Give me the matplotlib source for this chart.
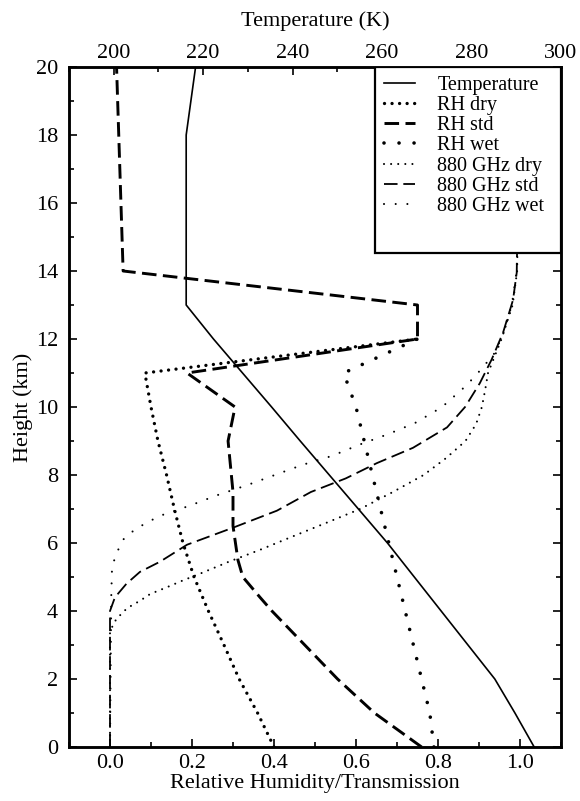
import matplotlib
matplotlib.use("Agg")
import matplotlib.pyplot as plt
from matplotlib.patches import Rectangle
from matplotlib.ticker import MultipleLocator

plt.rcParams['font.family'] = ['Liberation Serif', 'DejaVu Serif']
plt.rcParams['mathtext.fontset'] = 'stix'

# ---------------- data ----------------
# Temperature profile (K) vs height (km)
temp_h = [0, 1, 2, 3, 4, 5, 6, 7, 8, 9, 10, 11, 12, 13, 18, 20]
temp_T = [294.0, 289.7, 285.2, 279.2, 273.2, 267.2, 261.2, 254.7, 248.2, 241.7,
          235.3, 228.8, 222.3, 216.2, 216.2, 218.3]

# Relative humidity profiles
rh_std_h = [0, 1, 2, 3, 4, 4.4, 5, 5.5, 6.5, 7.5, 9, 10, 11, 12, 13, 14, 20]
rh_std_v = [0.76, 0.645, 0.555, 0.475, 0.395, 0.366, 0.324, 0.312, 0.30, 0.30,
            0.288, 0.305, 0.188, 0.75, 0.75, 0.032, 0.016]

rh_dry_h = [0, 1, 2, 3, 4, 5, 6, 7, 8, 9, 10, 11, 12]
rh_dry_v = [0.40, 0.36, 0.315, 0.278, 0.24, 0.205, 0.178, 0.157, 0.138, 0.117,
            0.10, 0.085, 0.75]

rh_wet_h = [0, 1, 2, 3, 4, 5, 6, 7, 8, 9, 10, 11, 12]
rh_wet_v = [0.79, 0.78, 0.76, 0.74, 0.72, 0.70, 0.68, 0.66, 0.64, 0.62,
            0.60, 0.57, 0.75]

# 880 GHz transmission profiles
tr_dry_h = [0, 3.4, 3.7, 3.95, 4.1, 4.3, 4.5, 4.7, 4.9, 5.1, 5.45, 5.8, 6.2, 6.6,
            7.0, 7.5, 8.0, 8.5, 9.0, 9.5, 10.0, 10.5, 11.0, 12.0, 13.0, 14.0, 20.0]
tr_dry_v = [0.0, 0.0, 0.012, 0.03, 0.044, 0.073, 0.098, 0.139, 0.178, 0.22, 0.29,
            0.366, 0.447, 0.529, 0.61, 0.69, 0.765, 0.82, 0.867, 0.893, 0.907,
            0.915, 0.922, 0.955, 0.982, 0.993, 1.0]

tr_std_h = [0, 4.0, 4.4, 4.8, 5.15, 5.45, 5.95, 6.45, 6.95, 7.5, 7.9, 8.35, 8.8,
            9.4, 10.0, 10.7, 11.4, 12.2, 13.15, 13.95, 20.0]
tr_std_v = [0.0, 0.0, 0.012, 0.04, 0.073, 0.122, 0.188, 0.30, 0.407, 0.49, 0.575,
            0.651, 0.739, 0.822, 0.866, 0.902, 0.931, 0.959, 0.983, 0.992, 1.0]

tr_wet_h = [0, 4.4, 5.3, 5.7, 6.1, 6.4, 6.6, 6.8, 7.1, 7.4, 7.7, 8.0, 8.3, 8.56,
            8.9, 9.2, 9.53, 10.0, 10.6, 10.9, 11.25, 11.6, 12.2, 13.0, 14.0, 20.0]
tr_wet_v = [0.0, 0.003, 0.005, 0.016, 0.032, 0.061, 0.09, 0.122, 0.195, 0.26,
            0.334, 0.402, 0.47, 0.541, 0.61, 0.678, 0.744, 0.81, 0.866, 0.89,
            0.915, 0.939, 0.96, 0.98, 0.992, 1.0]

labels = ["Temperature", "RH dry", "RH std", "RH wet",
          "880 GHz dry", "880 GHz std", "880 GHz wet"]

xticks_bottom = [0.0, 0.2, 0.4, 0.6, 0.8, 1.0]
xticks_top = [200, 220, 240, 260, 280, 300]
yticks = [0, 2, 4, 6, 8, 10, 12, 14, 16, 18, 20]

# ---------------- figure ----------------
fig = plt.figure(figsize=(5.8, 8.01), dpi=100)
ax = fig.add_axes([69 / 580, 54 / 801, 492 / 580, 680 / 801])
ax2 = ax.twiny()

FS = 16
k = 'black'

l_rhdry, = ax.plot(rh_dry_v, rh_dry_h, color=k, lw=2.4, dashes=(0.01, 2.25),
                   dash_capstyle='round', label=labels[1])
l_rhstd, = ax.plot(rh_std_v, rh_std_h, color=k, lw=2.1, dashes=(5.0, 2.2),
                   label=labels[2])
l_rhwet, = ax.plot(rh_wet_v, rh_wet_h, color=k, lw=2.6, dashes=(0.01, 4.15),
                   dash_capstyle='round', label=labels[3])
l_trdry, = ax.plot(tr_dry_v, tr_dry_h, color=k, lw=1.5, dashes=(0.01, 3.4),
                   dash_capstyle='round', label=labels[4])
l_trstd, = ax.plot(tr_std_v, tr_std_h, color=k, lw=1.3, dashes=(7.5, 3.2),
                   label=labels[5])
l_trwet, = ax.plot(tr_wet_v, tr_wet_h, color=k, lw=1.5, dashes=(0.01, 5.6),
                   dash_capstyle='round', label=labels[6])
l_temp, = ax2.plot(temp_T, temp_h, color=k, lw=1.2, label=labels[0])

ax.set_xlim(-0.1, 1.1)
ax.set_ylim(0, 20)
ax2.set_xlim(190, 300)

ax.set_xticks(xticks_bottom)
ax.set_xticklabels([f"{t:.1f}" for t in xticks_bottom])
ax.xaxis.set_minor_locator(MultipleLocator(0.1))
ax.set_yticks(yticks)
ax.yaxis.set_minor_locator(MultipleLocator(1))
ax2.set_xticks(xticks_top)
ax2.xaxis.set_minor_locator(MultipleLocator(10))

for a in (ax, ax2):
    for s in a.spines.values():
        s.set_linewidth(1.8)
ax.tick_params(which='both', direction='in', labelsize=FS, width=1.2,
               right=True, top=False)
ax.tick_params(which='major', length=6)
ax.tick_params(which='minor', length=3.5)
ax.tick_params(axis='y', pad=8)
ax.tick_params(axis='x', pad=5)
ax2.tick_params(which='both', direction='in', labelsize=FS, width=1.2)
ax2.tick_params(which='major', length=6, pad=3)
ax2.tick_params(which='minor', length=3.5)

ax.set_xlabel("Relative Humidity/Transmission", fontsize=FS, labelpad=1)
ax.set_ylabel("Height (km)", fontsize=FS, labelpad=2)
ax2.set_xlabel("Temperature (K)", fontsize=FS, labelpad=13)

# legend box
rect = Rectangle((0.622, 0.7265), 0.378, 0.2735, transform=ax2.transAxes,
                 facecolor='white', edgecolor='black', lw=1.6, zorder=5)
ax2.add_patch(rect)
handles = [l_temp, l_rhdry, l_rhstd, l_rhwet, l_trdry, l_trstd, l_trwet]
leg = ax2.legend(handles, labels, loc='upper left', bbox_to_anchor=(0.622, 1.0),
                 bbox_transform=ax2.transAxes, frameon=False, fontsize=14.5,
                 handlelength=1.55, handletextpad=1.1, labelspacing=0.05,
                 borderpad=0.45, borderaxespad=0)
leg.set_zorder(6)

fig.savefig("out.png", dpi=100)
